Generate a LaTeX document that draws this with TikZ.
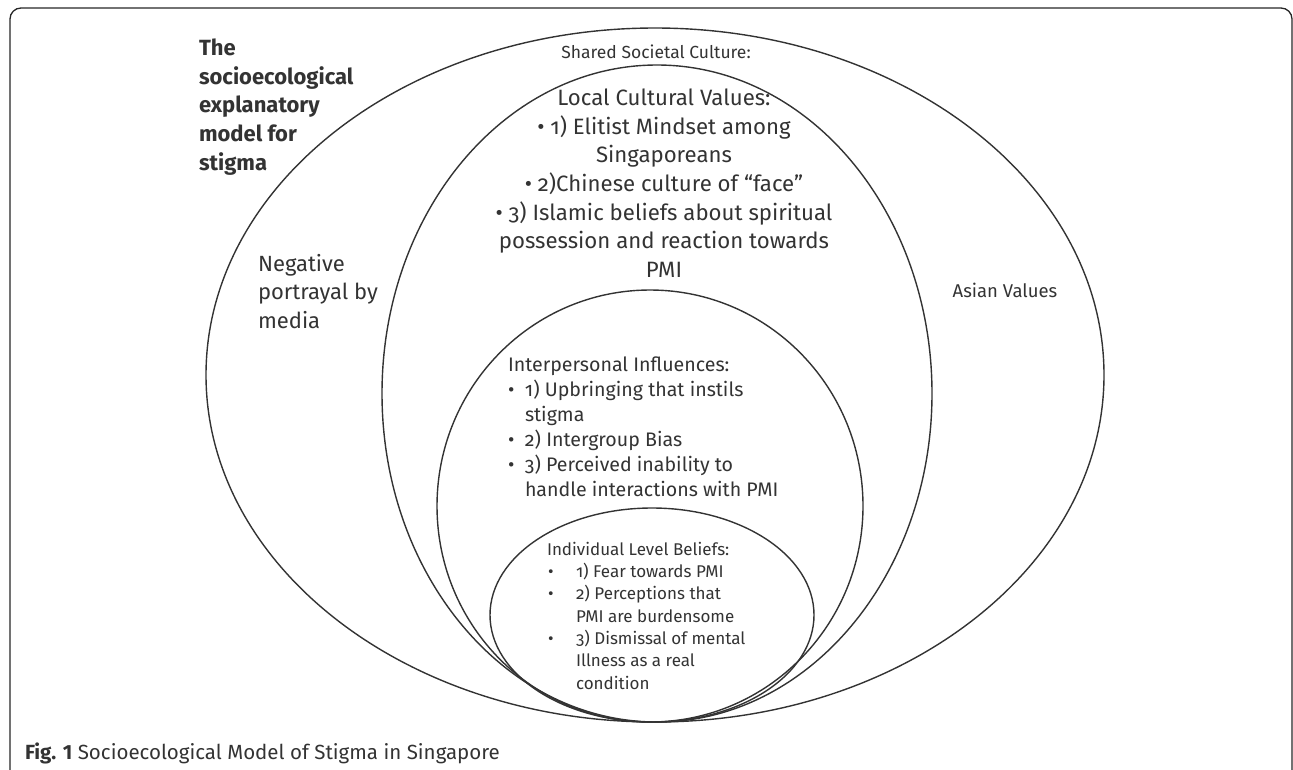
\documentclass[tikz,border=0pt]{standalone}
\usepackage{fontspec}
\setmainfont{Fira Sans}[Numbers=OldStyle]
\newfontfamily\capfont{Fira Sans}
\begin{document}
\begin{tikzpicture}[x=1pt,y=-1pt,
  ink/.style={draw=black!80, line width=1.4pt},
  label/.style={text=black!80, inner sep=0pt, outer sep=0pt},
  sz/.style 2 args={font=\fontsize{#1}{#2}\selectfont}]
\useasboundingbox (0,0) rectangle (1293,769);
% outer frame, open at the bottom
\draw[draw=black!85, line width=1.3pt, rounded corners=11pt]
  (10,780) -- (10,8) -- (1292,8) -- (1292,780);

% nested levels, all touching at the bottom
\draw[ink] (655,375) ellipse [x radius=449pt, y radius=347pt];
\draw[ink] (657,393.5) ellipse [x radius=275pt, y radius=328.5pt];
\draw[ink] (650,506) ellipse [x radius=213pt, y radius=216pt];
\draw[ink] (652,615) ellipse [x radius=162pt, y radius=107pt];

% title
\node[label, font=\bfseries\fontsize{22}{28.6}\selectfont, align=left, anchor=north west]
  (title) at (199,39) {The\\socioecological\\explanatory\\model for\\stigma};

% societal level
\node[label, sz={17.5}{22}, anchor=center] (shared) at (656,52) {Shared Societal Culture:};
\node[label, sz={22}{28.5}, align=left, anchor=north west] (media) at (258,254)
  {Negative\\portrayal by\\media};
\node[label, sz={18.5}{28}, anchor=center] (asian) at (1005,290) {Asian Values};

% local cultural level
\node[label, sz={22.2}{28.6}, align=center, anchor=north] (local) at (664,89)
  {Local Cultural Values:\\
   \textbullet\ 1) Elitist Mindset among\\
   Singaporeans\\
   \textbullet\ 2)Chinese culture of “face”\\
   \textbullet\ 3) Islamic beliefs about spiritual\\
   possession and reaction towards\\
   PMI};

% interpersonal level
\node[label, sz={19.6}{25}, align=left, anchor=north west] (inter) at (508,357)
  {Interpersonal Influences:\\
   \makebox[17pt][l]{\textbullet}1) Upbringing that instils\\
   \hspace*{17pt}stigma\\
   \makebox[17pt][l]{\textbullet}2) Intergroup Bias\\
   \makebox[17pt][l]{\textbullet}3) Perceived inability to\\
   \hspace*{17pt}handle interactions with PMI};

% individual level
\node[label, sz={17}{22.3}, align=left, anchor=north west] (indiv) at (547,542)
  {Individual Level Beliefs:\\
   \hspace*{1pt}\makebox[28pt][l]{\textbullet}1) Fear towards PMI\\
   \hspace*{1pt}\makebox[28pt][l]{\textbullet}2) Perceptions that\\
   \hspace*{29pt}PMI are burdensome\\
   \hspace*{1pt}\makebox[28pt][l]{\textbullet}3) Dismissal of mental\\
   \hspace*{29pt}Illness as a real\\
   \hspace*{29pt}condition};

% caption
\node[label, font=\capfont\fontsize{20.5}{24}\selectfont, anchor=west] (caption) at (25,753)
  {\textbf{Fig. 1} Socioecological Model of Stigma in Singapore};
\end{tikzpicture}
\end{document}
